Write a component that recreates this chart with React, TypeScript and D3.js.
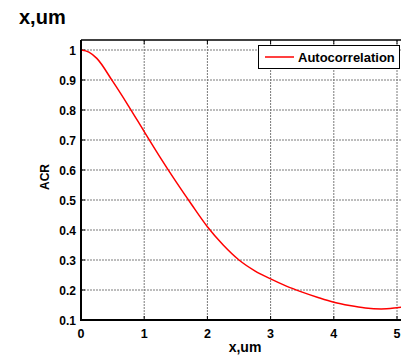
import React from "react";
import * as d3 from "d3";

const xValues = [0, 0.125, 0.25, 0.5, 0.75, 1, 1.25, 1.5, 1.75, 2, 2.25, 2.5, 2.75, 3, 3.25, 3.5, 3.75, 4, 4.25, 4.5, 4.75, 5, 5.2];
const acrValues = [1.0, 0.993, 0.972, 0.896, 0.814, 0.728, 0.643, 0.562, 0.485, 0.411, 0.35, 0.3, 0.264, 0.237, 0.213, 0.193, 0.175, 0.159, 0.148, 0.14, 0.137, 0.141, 0.146];
const xTicks = [0, 1, 2, 3, 4, 5];
const yTicks = [0.1, 0.2, 0.3, 0.4, 0.5, 0.6, 0.7, 0.8, 0.9, 1];
const yTickLabels = ["0.1", "0.2", "0.3", "0.4", "0.5", "0.6", "0.7", "0.8", "0.9", "1"];
const seriesName = "Autocorrelation";
const titleText = "x,um";
const xLabel = "x,um";
const yLabel = "ACR";

const W = 401;
const H = 357;
const left = 81;
const right = 412;
const top = 40;
const bottom = 320;
const FONT = "'Liberation Sans', Arial, sans-serif";

export default function App() {
  const x = d3.scaleLinear().domain([0, 5]).range([left, 397]);
  const y = d3.scaleLinear().domain([0.1, 1]).range([bottom, 50]);
  const data = xValues.map((v, i) => [v, acrValues[i]] as [number, number]);
  const line = d3
    .line<[number, number]>()
    .x((d) => x(d[0]))
    .y((d) => y(d[1]))
    .curve(d3.curveMonotoneX);
  const gridColor = "#7a7a7a";
  return (
    <svg
      width={W}
      height={H}
      style={{ position: "absolute", left: 0, top: 0, background: "#fff" }}
      fontFamily={FONT}
    >
      <rect x={0} y={0} width={W} height={H} fill="#fff" />
      <defs>
        <clipPath id="plotclip">
          <rect x={left} y={top} width={right - left} height={bottom - top} />
        </clipPath>
      </defs>
      {xTicks
        .filter((t) => t > 0)
        .map((t) => (
          <line key={"gx" + t} x1={x(t)} x2={x(t)} y1={top} y2={bottom} stroke={gridColor} strokeWidth={1} strokeDasharray="2,1" />
        ))}
      {yTicks
        .filter((t) => t > 0.1)
        .map((t) => (
          <line key={"gy" + t} x1={left} x2={right} y1={y(t)} y2={y(t)} stroke={gridColor} strokeWidth={1} strokeDasharray="2,1" />
        ))}
      {xTicks.map((t) => (
        <g key={"tx" + t}>
          <line x1={x(t)} x2={x(t)} y1={bottom} y2={bottom - 4} stroke="#000" strokeWidth={1} />
          <line x1={x(t)} x2={x(t)} y1={top} y2={top + 4} stroke="#000" strokeWidth={1} />
          <text x={x(t)} y={337.5} fontSize={12.5} fontWeight="bold" textAnchor="middle">
            {t}
          </text>
        </g>
      ))}
      {yTicks.map((t, i) => (
        <g key={"ty" + t}>
          <line x1={left} x2={left + 4} y1={y(t)} y2={y(t)} stroke="#000" strokeWidth={1} />
          <text x={76} y={y(t) + 4.5} fontSize={12} fontWeight="bold" textAnchor="end">
            {yTickLabels[i]}
          </text>
        </g>
      ))}
      <path d={line(data) || ""} fill="none" stroke="#ff0000" strokeWidth={1.5} clipPath="url(#plotclip)" />
      <line x1={left} x2={right} y1={top} y2={top} stroke="#000" strokeWidth={1.5} />
      <line x1={left} x2={right} y1={bottom} y2={bottom} stroke="#000" strokeWidth={2} />
      <line x1={left} x2={left} y1={top} y2={bottom + 1} stroke="#000" strokeWidth={2} />
      <rect x={258.5} y={45.5} width={141} height={23} fill="#fff" stroke="#000" strokeWidth={1} />
      <line x1={265} x2={294} y1={57} y2={57} stroke="#ff0000" strokeWidth={1.5} />
      <text x={298} y={61.5} fontSize={13} fontWeight="bold">
        {seriesName}
      </text>
      <text x={19} y={24} fontSize={20} fontWeight="bold">
        {titleText}
      </text>
      <text x={245} y={352} fontSize={14} fontWeight="bold" textAnchor="middle">
        {xLabel}
      </text>
      <text transform={`translate(49,177) rotate(-90)`} fontSize={12} fontWeight="bold" textAnchor="middle">
        {yLabel}
      </text>
    </svg>
  );
}
